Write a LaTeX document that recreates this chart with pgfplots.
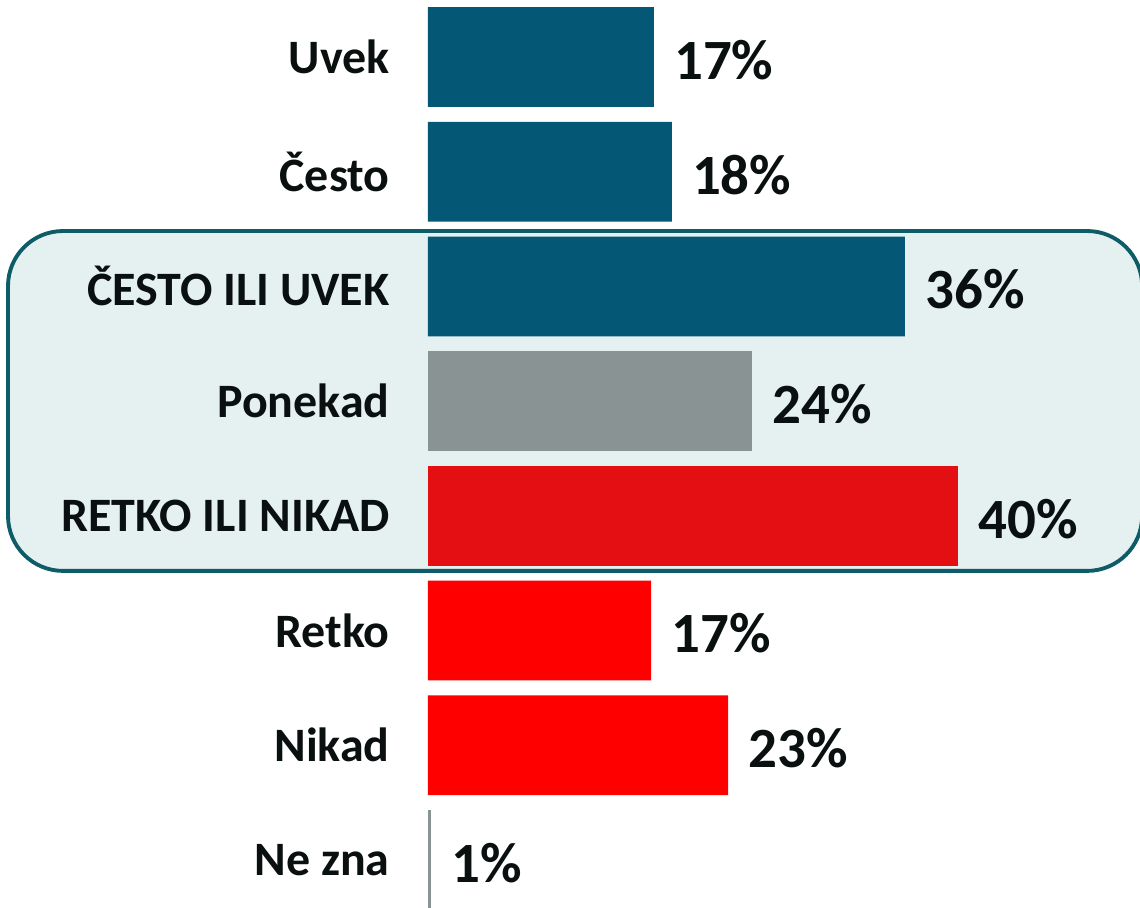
\documentclass[border=0pt]{standalone}
\usepackage{fontspec}
\setmainfont{Carlito}
\usepackage{pgfplots}
\pgfplotsset{compat=1.18}
\usetikzlibrary{backgrounds}

\definecolor{tealbar}{HTML}{045876}
\definecolor{graybar}{HTML}{8A9393}
\definecolor{darkred}{HTML}{E30F12}
\definecolor{brightred}{HTML}{FF0000}
\definecolor{boxfill}{HTML}{E5F0F1}
\definecolor{boxline}{HTML}{0D5C67}
\definecolor{txt}{HTML}{0A1010}

\begin{document}
\begin{tikzpicture}
\begin{axis}[
    scale only axis,
    width=14.24cm, height=18.14cm,
    xbar, bar shift=0pt, bar width=0.87,
    xmin=0, xmax=53.74,
    ymin=-0.497, ymax=7.41,
    y dir=reverse,
    clip=false,
    axis line style={draw=none},
    xtick=\empty,
    ytick={0,...,7},
    yticklabels={Uvek, Često, ČESTO ILI UVEK, Ponekad, RETKO ILI NIKAD, Retko, Nikad, Ne zna},
    major tick length=0pt,
    yticklabel style={font=\bfseries\fontsize{27.3}{30}\selectfont, text=txt,
                      anchor=east, inner sep=0pt, xshift=-0.76cm},
    point meta=explicit symbolic,
    nodes near coords,
    nodes near coords style={font=\bfseries\fontsize{32.4}{36}\selectfont, text=txt,
                             anchor=west, inner sep=0pt, xshift=0.4cm, yshift=-0.06cm},
]
% bar lengths; labels are the printed percentages
\addplot[draw=none, fill=tealbar] coordinates {
  (17.05,0) [17\%]
  (18.4,1)  [18\%]
  (36.0,2)  [36\%]
};
\addplot[draw=none, fill=graybar] coordinates {
  (24.45,3) [24\%]
};
\addplot[draw=none, fill=darkred] coordinates {
  (40.0,4) [40\%]
};
\addplot[draw=none, fill=brightred] coordinates {
  (16.85,5) [17\%]
  (22.65,6) [23\%]
};
% "Ne zna" is drawn as a hairline bar in the source
\addplot[draw=none, fill=graybar] coordinates {
  (0.22,7) [1\%]
};
% corners of the highlighted group
\coordinate (H1) at (axis cs:-31.7,1.517);
\coordinate (H2) at (axis cs:53.9,4.48);
\coordinate (A) at (rel axis cs:0,0);
\coordinate (B) at (rel axis cs:1,1);
\end{axis}
\begin{scope}[on background layer]
\draw[boxline, line width=2.2pt, fill=boxfill, rounded corners=1.1cm] (H1) rectangle (H2);
\end{scope}
\pgfresetboundingbox
\path[use as bounding box] (A) ++(-8.56cm,0) rectangle (B);
\end{tikzpicture}
\end{document}
